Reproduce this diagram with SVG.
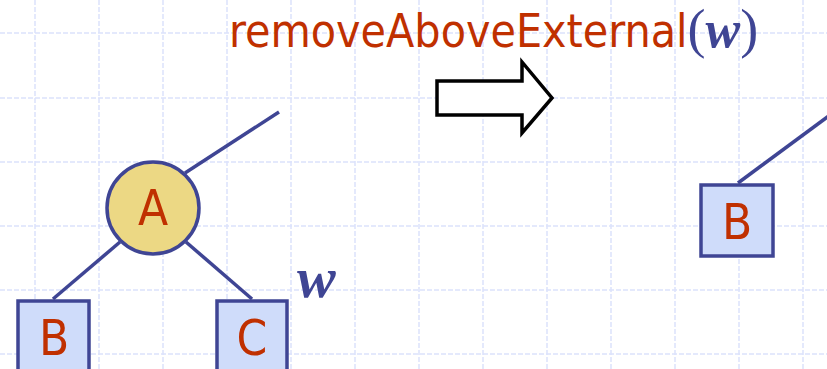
<svg xmlns="http://www.w3.org/2000/svg" width="827" height="369" viewBox="0 0 827 369">
<defs>
<style>
.grid{stroke:#dce2fb;stroke-width:1.5;stroke-dasharray:5,2;fill:none}
.edge{stroke:#3f4594;stroke-width:3.5;fill:none}
.ext{fill:#cfdcfa;stroke:#3f4594;stroke-width:3.5}
.int{fill:#ecd884;stroke:#3f4594;stroke-width:3.5}
.lbl{font-family:"DejaVu Sans Condensed","DejaVu Sans",sans-serif;font-size:49px;fill:#c03000;text-anchor:middle}
.var{font-family:"Liberation Serif",serif;font-style:italic;font-weight:bold;fill:#3f4594}
</style>
</defs>
<rect width="827" height="369" fill="#ffffff"/>
<g id="grid" class="grid">
<path d="M35 0V369M99 0V369M163 0V369M227 0V369M291 0V369M355 0V369M419 0V369M483 0V369M547 0V369M611 0V369M675 0V369M739 0V369M803 0V369"/>
<path d="M0 33H827M0 98H827M0 162H827M0 226H827M0 290H827M0 354H827"/>
</g>
<g id="connectors">
<line class="edge" x1="185" y1="173" x2="279" y2="112"/>
<line class="edge" x1="120" y1="242" x2="53" y2="299"/>
<line class="edge" x1="186" y1="242" x2="252" y2="299"/>
<line class="edge" x1="738" y1="183" x2="830" y2="115"/>
</g>
<g id="title">
<text x="229" y="47" font-family="DejaVu Sans Condensed, DejaVu Sans, sans-serif" font-size="46" fill="#c03000">removeAboveExternal<tspan fill="#3f4594" font-family="Liberation Serif, serif" font-size="54">(</tspan><tspan class="var" font-size="52">w</tspan><tspan fill="#3f4594" font-family="Liberation Serif, serif" font-size="54">)</tspan></text>
</g>
<g id="arrow">
<path d="M437 81H522V62L552 98L522 133V115H437Z" fill="#ffffff" stroke="#000000" stroke-width="3.5"/>
</g>
<g id="node-A">
<circle class="int" cx="153" cy="208" r="46"/>
<text class="lbl" x="153" y="225">A</text>
</g>
<g id="node-B">
<rect class="ext" x="18" y="301" width="71" height="72"/>
<text class="lbl" x="54" y="355">B</text>
</g>
<g id="node-C">
<rect class="ext" x="217" y="301" width="70" height="72"/>
<text class="lbl" x="252" y="355">C</text>
</g>
<g id="label-w">
<text class="var" x="297" y="297" font-size="58">w</text>
</g>
<g id="node-B2">
<rect class="ext" x="701" y="185" width="72" height="71"/>
<text class="lbl" x="737" y="239">B</text>
</g>
</svg>
